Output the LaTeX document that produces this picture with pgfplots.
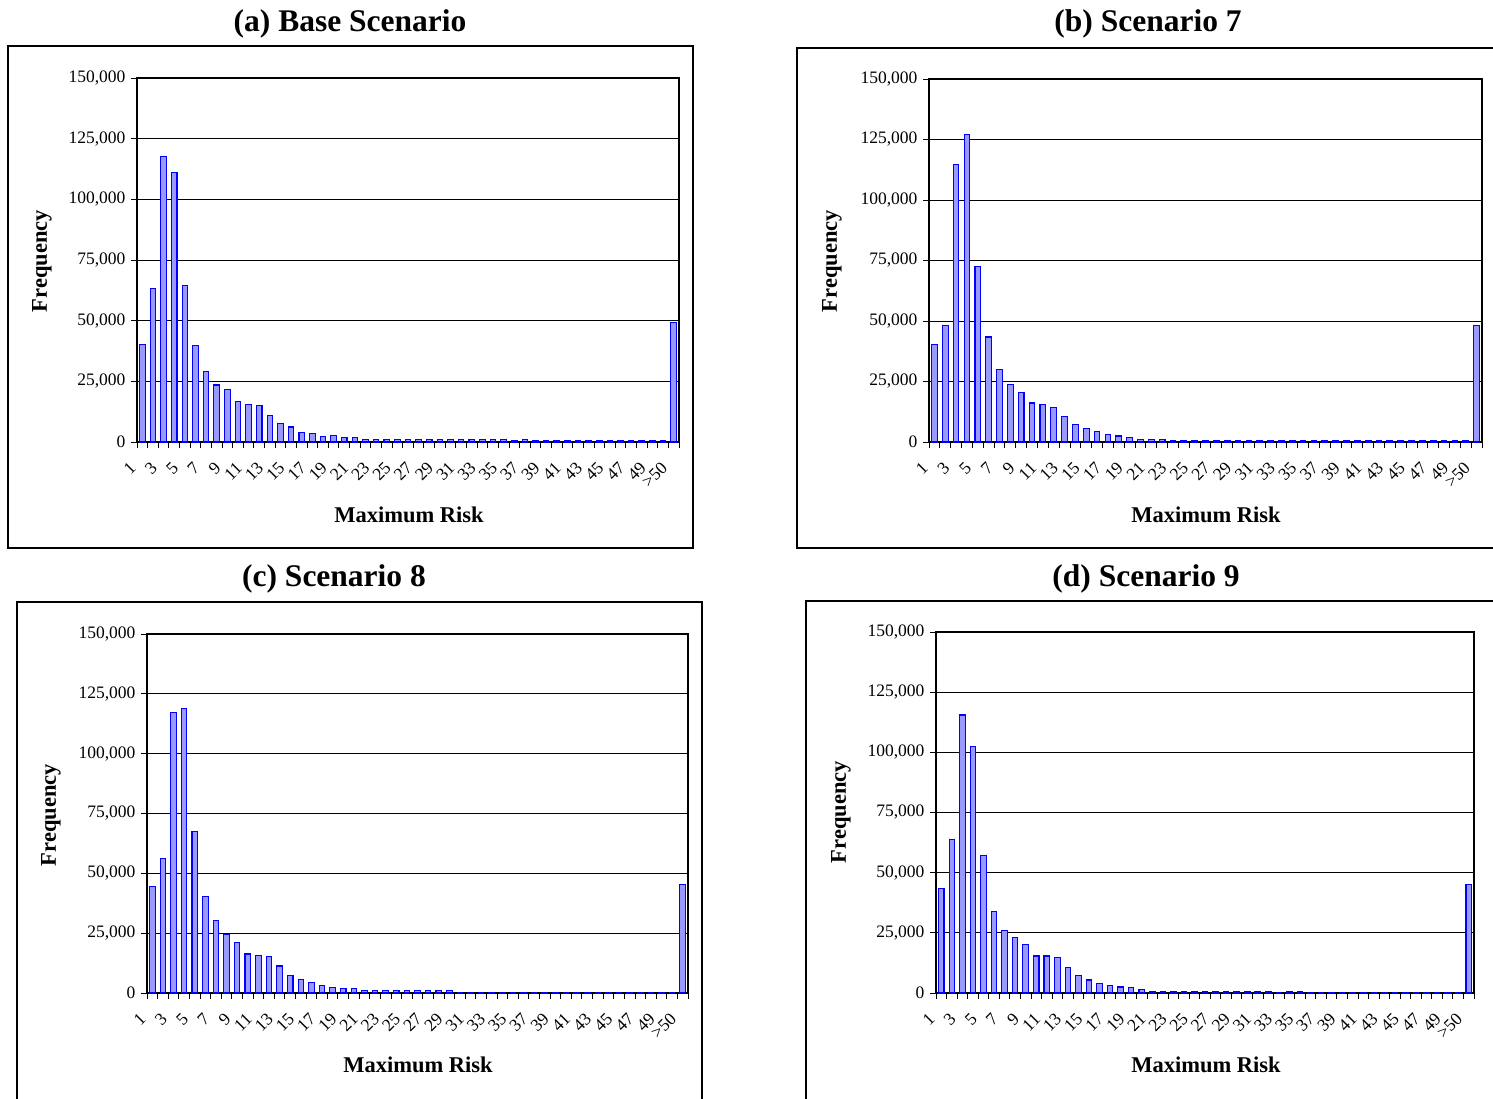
\documentclass[border=0pt]{standalone}
\usepackage{fontspec}
\setmainfont{Liberation Serif}
\usepackage{pgfplots}
\pgfplotsset{compat=1.18}
\definecolor{barfill}{HTML}{9999FF}
\definecolor{baredge}{HTML}{0000FF}
\pgfplotsset{
  riskhist/.style={
    scale only axis,
    anchor=north west,
    xmin=0.5, xmax=51.5,
    ymin=0, ymax=150000,
    ytick={0,25000,50000,75000,100000,125000,150000},
    scaled y ticks=false,
    /pgf/number format/fixed,
    /pgf/number format/precision=0,
    /pgf/number format/1000 sep={,},
    /pgf/number format/assume math mode=true,
    xtick={0.5,1.5,...,51.5},
    xticklabels={},
    extra x ticks={1,3,...,51},
    extra x tick labels={1,3,5,7,9,11,13,15,17,19,21,23,25,27,29,31,33,35,37,39,41,43,45,47,49,{>50}},
    extra x tick style={major tick length=0pt},
    tick pos=left,
    tick align=outside,
    major tick length=6pt,
    tick style={black, line width=0.9pt},
    axis line style={black, line width=1.2pt},
    ymajorgrids,
    major grid style={black, line width=0.8pt},
    yticklabel style={font=\fontsize{17.5}{21}\selectfont, xshift=-2pt},
    xticklabel style={font=\fontsize{17.5}{21}\selectfont, xshift=-7pt, yshift=-21pt, rotate=45, anchor=east},
  },
  riskbar/.style={ybar, bar width=0.52, fill=barfill, draw=baredge, line width=1.1pt},
}
\newcommand{\ttl}{\fontsize{31.5}{36}\selectfont\bfseries}
\newcommand{\lbl}{\fontsize{22.5}{27}\selectfont\bfseries}
\begin{document}
\begin{tikzpicture}[x=1pt,y=1pt]
\path[use as bounding box] (0,0) rectangle (1493,-1098);
% frames
\draw[black, line width=1.2pt] (8,-46) rectangle (693,-548);
\draw[black, line width=1.2pt] (797,-48) rectangle (1496,-548);
\draw[black, line width=1.2pt] (17,-1102) -- (17,-602) -- (702,-602) -- (702,-1102);
\draw[black, line width=1.2pt] (806,-1102) -- (806,-601) -- (1496,-601);
% titles
\node[font=\ttl] at (350,-24) {(a) Base Scenario};
\node[font=\ttl] at (1148,-24) {(b) Scenario 7};
\node[font=\ttl] at (334,-579) {(c) Scenario 8};
\node[font=\ttl] at (1146,-579) {(d) Scenario 9};
% axis labels
\node[font=\lbl, rotate=90] at (42,-261) {Frequency};
\node[font=\lbl, rotate=90] at (832,-261) {Frequency};
\node[font=\lbl, rotate=90] at (51,-815) {Frequency};
\node[font=\lbl, rotate=90] at (841,-812) {Frequency};
\node[font=\lbl] at (409,-515) {Maximum Risk};
\node[font=\lbl] at (1206,-515) {Maximum Risk};
\node[font=\lbl] at (418,-1065) {Maximum Risk};
\node[font=\lbl] at (1206,-1065) {Maximum Risk};

% (a)
\begin{axis}[riskhist, at={(137pt,-78pt)}, width=542pt, height=364pt]
\addplot[riskbar] coordinates {
(1,40300)(2,63300)(3,117500)(4,110900)(5,64400)(6,39600)(7,29200)(8,23500)(9,21700)(10,16600)
(11,15500)(12,14900)(13,11000)(14,7500)(15,6200)(16,4100)(17,3500)(18,2400)(19,2500)(20,1900)
(21,1900)(22,1200)(23,1200)(24,1200)(25,1200)(26,1200)(27,1200)(28,1200)(29,1200)(30,1200)
(31,1200)(32,1200)(33,1200)(34,1200)(35,1200)(36,500)(37,1200)(38,500)(39,500)(40,500)
(41,500)(42,500)(43,500)(44,500)(45,500)(46,500)(47,500)(48,500)(49,500)(50,500)
(51,49300)};
\end{axis}

% (b)
\begin{axis}[riskhist, at={(929pt,-79pt)}, width=553pt, height=363pt]
\addplot[riskbar] coordinates {
(1,40200)(2,48300)(3,114700)(4,127000)(5,72600)(6,43400)(7,29900)(8,23600)(9,20400)(10,16100)
(11,15400)(12,14300)(13,10600)(14,7400)(15,5500)(16,4300)(17,3200)(18,2500)(19,1900)(20,1200)
(21,1200)(22,1200)(23,500)(24,500)(25,500)(26,500)(27,500)(28,500)(29,500)(30,500)
(31,500)(32,500)(33,500)(34,500)(35,500)(36,500)(37,500)(38,500)(39,500)(40,500)
(41,500)(42,500)(43,500)(44,500)(45,500)(46,500)(47,500)(48,500)(49,500)(50,500)
(51,48300)};
\end{axis}

% (c)
\begin{axis}[riskhist, at={(147pt,-634pt)}, width=541pt, height=359pt]
\addplot[riskbar] coordinates {
(1,44500)(2,56300)(3,117200)(4,119000)(5,67600)(6,40200)(7,30300)(8,24500)(9,21200)(10,16300)
(11,15600)(12,15100)(13,11300)(14,7500)(15,5600)(16,4500)(17,3200)(18,2400)(19,1700)(20,1700)
(21,1000)(22,1000)(23,1000)(24,1000)(25,1000)(26,1000)(27,1000)(28,1000)(29,1000)(30,300)
(31,300)(32,300)(33,300)(34,300)(35,300)(36,300)(37,300)(38,300)(39,300)(40,300)
(41,300)(42,300)(43,300)(44,300)(45,300)(46,300)(47,300)(48,300)(49,300)(50,300)
(51,45400)};
\end{axis}

% (d)
\begin{axis}[riskhist, at={(936pt,-632pt)}, width=538pt, height=361pt]
\addplot[riskbar] coordinates {
(1,43400)(2,63900)(3,115500)(4,102500)(5,57100)(6,34000)(7,26000)(8,23000)(9,20300)(10,15400)
(11,15400)(12,14800)(13,10500)(14,7300)(15,5400)(16,4100)(17,3000)(18,2500)(19,2400)(20,1500)
(21,800)(22,800)(23,800)(24,800)(25,800)(26,800)(27,800)(28,800)(29,800)(30,800)
(31,800)(32,800)(33,300)(34,800)(35,800)(36,300)(37,300)(38,300)(39,300)(40,300)
(41,300)(42,300)(43,300)(44,300)(45,300)(46,300)(47,300)(48,300)(49,300)(50,300)
(51,45000)};
\end{axis}
\end{tikzpicture}
\end{document}
